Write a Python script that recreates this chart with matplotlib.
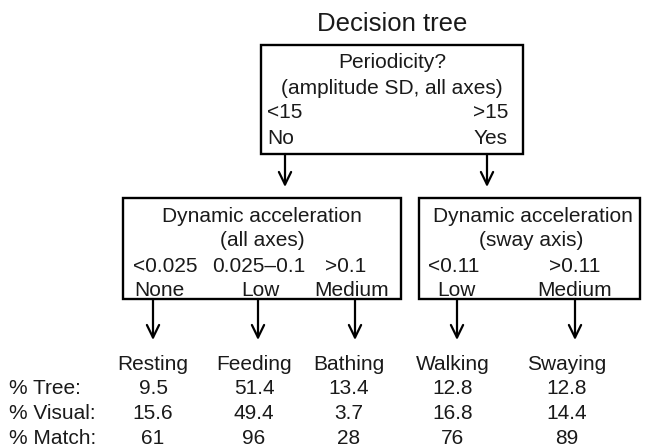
import matplotlib.pyplot as plt
from matplotlib.patches import Rectangle

plt.rcParams['font.family'] = ['Liberation Sans', 'DejaVu Sans']

# Inhalt des Entscheidungsbaums
title = "Decision tree"
root_lines = ["Periodicity?", "(amplitude SD, all axes)"]
root_thresholds = ["<15", ">15"]
root_answers = ["No", "Yes"]

left_lines = ["Dynamic acceleration", "(all axes)"]
left_thresholds = ["<0.025", "0.025\u20130.1", ">0.1"]
left_levels = ["None", "Low", "Medium"]

right_lines = ["Dynamic acceleration", "(sway axis)"]
right_thresholds = ["<0.11", ">0.11"]
right_levels = ["Low", "Medium"]

behaviours = ["Resting", "Feeding", "Bathing", "Walking", "Swaying"]
row_names = ["% Tree:", "% Visual:", "% Match:"]
pct_tree = ["9.5", "51.4", "13.4", "12.8", "12.8"]
pct_visual = ["15.6", "49.4", "3.7", "16.8", "14.4"]
pct_match = ["61", "96", "28", "76", "89"]

fs = 15
fig = plt.figure(figsize=(6.46, 4.47), dpi=100)
ax = fig.add_axes([0, 0, 1, 1])
ax.set_xlim(0, 646)
ax.set_ylim(447, 0)
ax.axis("off")


def box(x0, y0, x1, y1):
    ax.add_patch(Rectangle((x0, y0), x1 - x0, y1 - y0, fill=False,
                           edgecolor="black", linewidth=1.7))


def arrow(x, y0, y1):
    ax.annotate("", xy=(x, y1), xytext=(x, y0),
                arrowprops=dict(arrowstyle="->,head_length=0.45,head_width=0.22",
                                color="black", lw=1.6,
                                mutation_scale=20, shrinkA=0, shrinkB=0))


def txt(x, y, s, ha="center", size=fs):
    ax.text(x, y, s, ha=ha, va="center", fontsize=size, color="#1a1a1a")


txt(392, 24, title, size=18.5)

# Wurzelknoten
box(261, 45, 523, 154)
txt(392, 63, root_lines[0])
txt(392, 88, root_lines[1])
txt(267, 113, root_thresholds[0], ha="left")
txt(508, 113, root_thresholds[1], ha="right")
txt(267, 138, root_answers[0], ha="left")
txt(508, 138, root_answers[1], ha="right")
arrow(285, 154, 187)
arrow(487, 154, 187)

# linker Knoten
box(123, 198, 401, 299)
txt(262, 216, left_lines[0])
txt(262, 241, left_lines[1])
# rechter Knoten
box(419, 198, 640, 299)
txt(533, 216, right_lines[0])
txt(531, 241, right_lines[1])

left_thr_x = [165, 259, 346]
left_lvl_x = [159, 260, 352]
right_thr_x = [454, 575]
right_lvl_x = [456, 575]
for x, t in zip(left_thr_x + right_thr_x, left_thresholds + right_thresholds):
    txt(x, 266, t)
for x, l in zip(left_lvl_x + right_lvl_x, left_levels + right_levels):
    txt(x, 291, l)

arrow_x = [153, 258, 355, 457, 575]
for x in arrow_x:
    arrow(x, 299, 340)

col_x = [153, 254, 349, 453, 567]
for x, b in zip(col_x, behaviours):
    txt(x, 364, b)
for i, (name, vals) in enumerate(zip(row_names, [pct_tree, pct_visual, pct_match])):
    y = 389 + i * 24.5
    txt(9, y, name, ha="left")
    for x, v in zip(col_x, vals):
        txt(x, y, v)

fig.savefig("out.png", dpi=100)
